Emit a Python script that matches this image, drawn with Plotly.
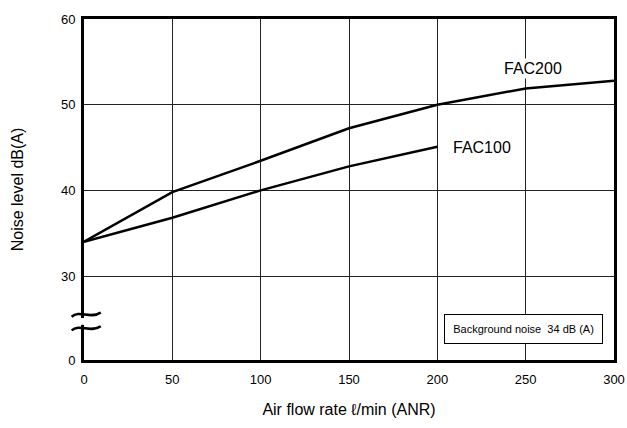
import plotly.graph_objects as go

# ---- data ----
flow = [0, 50, 100, 150, 200, 250, 300]
fac200 = [34.0, 39.8, 43.45, 47.25, 50.0, 51.9, 52.8]
flow100 = [0, 50, 100, 150, 200]
fac100 = [34.0, 36.8, 40.0, 42.8, 45.1]

x_ticks = [0, 50, 100, 150, 200, 250, 300]
# broken y axis: the label "0" sits at display position y_zero
y_zero = 20.2
y_top = 60
y_tickvals = [y_zero, 30, 40, 50, 60]
y_ticktext = ["0", "30", "40", "50", "60"]

FONT = "Liberation Sans, Arial, sans-serif"

fig = go.Figure()
line_style = dict(color="black", width=2.5)
fig.add_trace(go.Scatter(x=flow, y=fac200, mode="lines", line=line_style,
                         name="FAC200", cliponaxis=False))
fig.add_trace(go.Scatter(x=flow100, y=fac100, mode="lines", line=line_style,
                         name="FAC100", cliponaxis=False))

fig.update_layout(
    width=627, height=428,
    margin=dict(l=84, r=13, t=19, b=68, autoexpand=False),
    paper_bgcolor="white", plot_bgcolor="white",
    showlegend=False,
    font=dict(family=FONT, color="black", size=13),
)
fig.update_xaxes(
    range=[0, 300], tickvals=x_ticks, showgrid=True, gridcolor="#222", gridwidth=1,
    showline=True, linecolor="black", linewidth=3, mirror=True, zeroline=False,
    ticks="outside", ticklen=5, tickcolor="rgba(0,0,0,0)", tickfont=dict(size=13),
    automargin=False,
    title=dict(text="Air flow rate ℓ/min (ANR)", font=dict(size=16), standoff=19),
)
fig.update_yaxes(
    range=[y_zero, y_top], tickvals=y_tickvals, ticktext=y_ticktext,
    showgrid=True, gridcolor="#222", gridwidth=1,
    showline=True, linecolor="black", linewidth=3, mirror=True, zeroline=False,
    ticks="outside", ticklen=3, tickcolor="rgba(0,0,0,0)", tickfont=dict(size=13),
    automargin=False,
    title=dict(text="Noise level dB(A)", font=dict(size=16), standoff=34),
)

# series labels
fig.add_annotation(x=254, y=54.2, text="FAC200", showarrow=False,
                   font=dict(size=16), bgcolor="white")
fig.add_annotation(x=225.5, y=45.0, text="FAC100", showarrow=False,
                   font=dict(size=16), bgcolor="white")

# background noise box
fig.add_annotation(x=249, y=23.87, text="Background noise\u00a0 34 dB (A)", showarrow=False,
                   font=dict(size=11), bgcolor="white",
                   bordercolor="black", borderwidth=1, borderpad=3,
                   width=151, height=22)


# axis break marks (paper coordinates so they are not clipped by the plot area)
def py(v):
    return (v - y_zero) / (y_top - y_zero)


def px(v):
    return v / 300.0


fig.add_shape(type="rect", xref="paper", yref="paper",
              x0=px(-3), x1=px(3), y0=py(24.3), y1=py(25.1),
              fillcolor="white", line=dict(width=0), layer="above")
for yb in (25.5, 23.9):
    fig.add_shape(type="path", xref="paper", yref="paper", layer="above",
                  path=(f"M {px(-7.0)},{py(yb - 0.25)} "
                        f"C {px(-2.5)},{py(yb + 0.6)} {px(3.5)},{py(yb - 0.6)} "
                        f"{px(9.5)},{py(yb + 0.25)}"),
                  line=dict(color="black", width=2.5))

fig.write_html(
    "out.html",
    config={"displayModeBar": False},
    post_script="document.body.style.margin='0';document.body.style.overflow='hidden';",
)
